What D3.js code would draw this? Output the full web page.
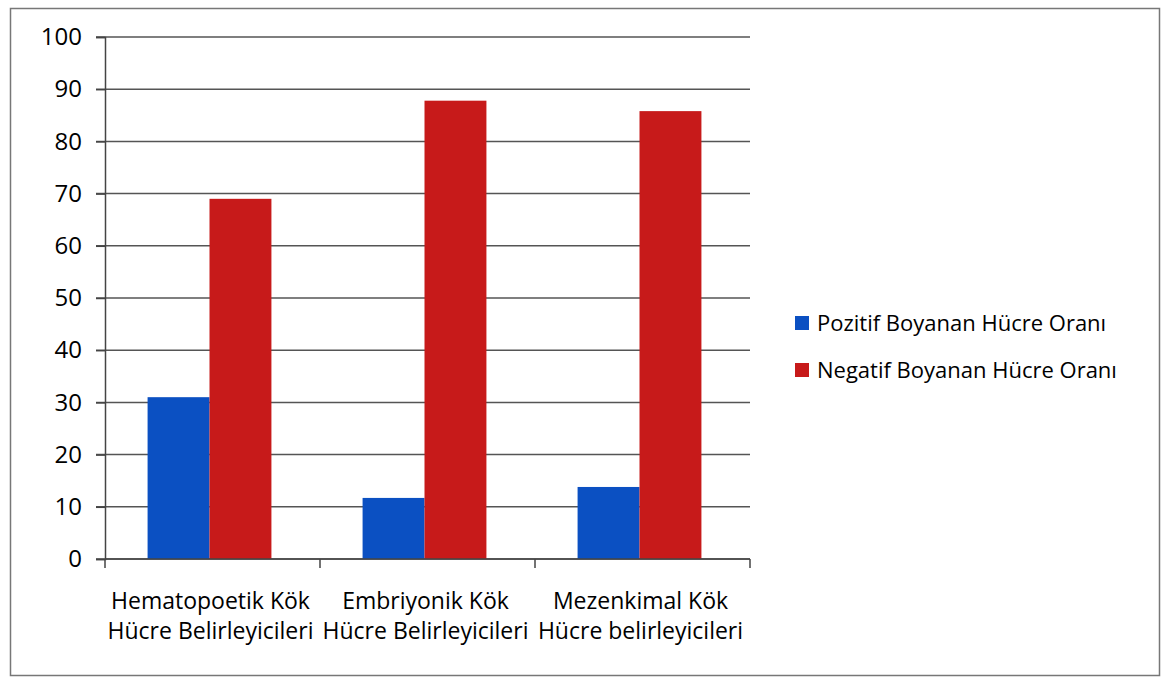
<!DOCTYPE html>
<html>
<head>
<meta charset="utf-8">
<script src="https://cdn.jsdelivr.net/npm/d3@7"></script>
<style>
  body { margin: 0; background: #fff; }
  text { font-family: "Open Sans", Lato, sans-serif; fill: #000; }
</style>
</head>
<body>
<div id="chart"></div>
<script>
// data
const categories = [
  ["Hematopoetik Kök", "Hücre Belirleyicileri"],
  ["Embriyonik Kök", "Hücre Belirleyicileri"],
  ["Mezenkimal Kök", "Hücre belirleyicileri"]
]
const seriesNames = ["Pozitif Boyanan Hücre Oranı", "Negatif Boyanan Hücre Oranı"]
const pozitif = [31, 11.7, 13.8]
const negatif = [69, 87.8, 85.8]
const yTicks = [0, 10, 20, 30, 40, 50, 60, 70, 80, 90, 100]

const W = 1161, H = 677
const margin = {top: 37, left: 105, right: 411, bottom: 118}
const width = W - margin.left - margin.right,
      height = H - margin.top - margin.bottom

const color = d3.scaleOrdinal().domain(seriesNames).range(["#0b50c2", "#c71a1a"])

const svg = d3.select("#chart").append("svg")
    .attr("width", W).attr("height", H)

// outer frame
svg.append("rect")
  .attr("x", 10.5).attr("y", 8.5)
  .attr("width", 1149).attr("height", 667)
  .attr("fill", "none").attr("stroke", "#777").attr("stroke-width", 1.5)

const g = svg.append("g").attr("transform", `translate(${margin.left},${margin.top})`)

const x = d3.scaleBand().domain(d3.range(categories.length)).range([0, width])
const xSub = d3.scaleBand().domain(seriesNames).range([-2, x.bandwidth() - 4]).paddingOuter(0.72).paddingInner(0)
const y = d3.scaleLinear().domain([0, 100]).range([height, 0])

// gridlines
g.append("g")
  .selectAll("line").data(yTicks).join("line")
    .attr("x1", -9).attr("x2", width)
    .attr("y1", d => y(d)).attr("y2", d => y(d))
    .attr("stroke", "#555").attr("stroke-width", 1.5)

// y axis
const yAxis = g.append("g")
  .call(d3.axisLeft(y).tickValues(yTicks).tickSize(9).tickPadding(14))
yAxis.select(".domain").attr("stroke", "#444").attr("stroke-width", 1.5)
yAxis.selectAll(".tick line").attr("stroke", "#444").attr("stroke-width", 1.5)
yAxis.selectAll("text").style("font-size", "24px").attr("fill", "#000")

// bars
const rows = categories.map((c, i) => ({i: i, vals: [pozitif[i], negatif[i]]}))
g.append("g")
  .selectAll("g").data(rows).join("g")
    .attr("transform", d => `translate(${x(d.i)},0)`)
  .selectAll("rect").data(d => d.vals.map((v, k) => ({key: seriesNames[k], v: v})))
  .join("rect")
    .attr("x", d => xSub(d.key))
    .attr("y", d => y(d.v))
    .attr("width", xSub.bandwidth())
    .attr("height", d => height - y(d.v))
    .attr("fill", d => color(d.key))

// x axis
const xAxisG = g.append("g").attr("transform", `translate(0,${height})`)
xAxisG.append("line").attr("x1", 0).attr("x2", width)
  .attr("stroke", "#444").attr("stroke-width", 1.5)
xAxisG.selectAll(".xtick").data(d3.range(categories.length + 1)).join("line")
  .attr("x1", d => d * x.step()).attr("x2", d => d * x.step())
  .attr("y1", 0).attr("y2", 9)
  .attr("stroke", "#444").attr("stroke-width", 1.5)

xAxisG.selectAll(".xlabel").data(categories).join("text")
  .attr("x", (d, i) => x(i) + x.bandwidth() / 2 - 2)
  .attr("y", 50)
  .attr("text-anchor", "middle")
  .style("font-size", "23px")
  .selectAll("tspan").data(d => d).join("tspan")
    .attr("x", function() { return d3.select(this.parentNode).attr("x") })
    .attr("dy", (d, j) => j === 0 ? 0 : 30)
    .text(d => d)

// legend
const legend = svg.selectAll(".legend").data(seriesNames).join("g")
  .attr("transform", (d, i) => `translate(795,${316 + i * 47})`)
legend.append("rect").attr("width", 14).attr("height", 14).attr("fill", d => color(d))
legend.append("text").attr("x", 22).attr("y", 7).attr("dy", "0.35em")
  .style("font-size", "22px").text(d => d)
</script>
</body>
</html>
